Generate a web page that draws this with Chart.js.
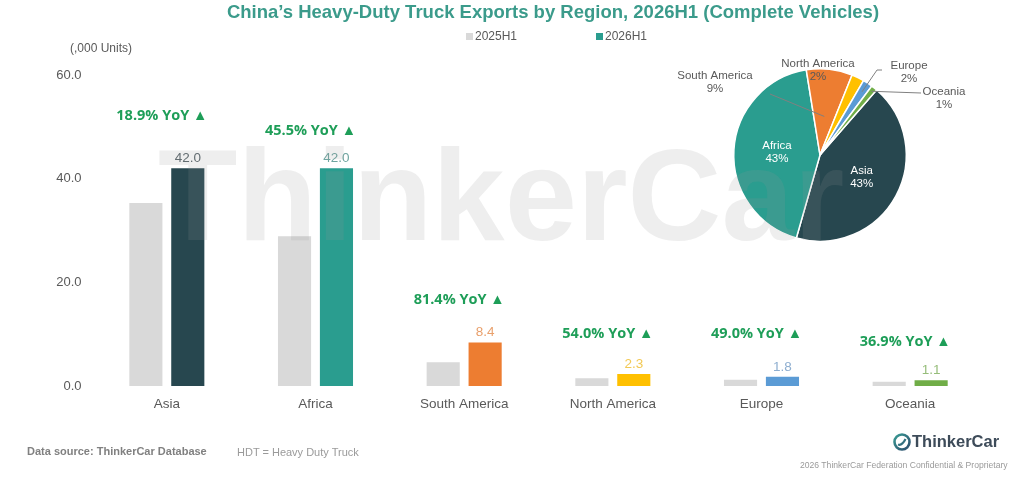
<!DOCTYPE html>
<html>
<head>
<meta charset="utf-8">
<script src="https://cdn.jsdelivr.net/npm/chart.js@4.4.1/dist/chart.umd.min.js"></script>
<style>
  html, body { margin: 0; padding: 0; background: #fff; }
  #wrap { position: relative; width: 1024px; height: 482px; overflow: hidden; font-family: 'Liberation Sans', Arial, sans-serif; }
  #barChart { position: absolute; left: 0; top: 0; }
  #pieChart { position: absolute; left: 640px; top: 58px; }
  .txt { position: absolute; white-space: nowrap; }
  #title { left: 0; width: 1106px; top: 1px; text-align: center; font-weight: bold; font-size: 18.5px; color: #3b9b8b; }
  #units { left: 70px; top: 41px; font-size: 12px; color: #595959; }
  #src { left: 27px; top: 445px; font-size: 11px; font-weight: bold; color: #808080; }
  #hdt { left: 237px; top: 446px; font-size: 11px; color: #9a9a9a; }
  #brand { left: 912px; top: 432px; font-size: 16.5px; font-weight: bold; color: #3d4b59; }
  #conf { left: 800px; top: 460px; font-size: 8.6px; color: #9a9a9a; }
  #mark { left: 158px; top: 120px; font-size: 130px; font-weight: bold; color: rgba(150,150,150,0.16); pointer-events: none; }
  #logo { position: absolute; left: 892px; top: 432px; }
</style>
</head>
<body>
<div id="wrap">
  <canvas id="barChart" width="1024" height="482"></canvas>
  <canvas id="pieChart" width="360" height="194"></canvas>
  <div class="txt" id="title">China’s Heavy-Duty Truck Exports by Region, 2026H1 (Complete Vehicles)</div>
  <div class="txt" id="units">(,000 Units)</div>
  <div class="txt" id="src">Data source: ThinkerCar Database</div>
  <div class="txt" id="hdt">HDT = Heavy Duty Truck</div>
  <canvas id="logo" width="20" height="20"></canvas>
  <div class="txt" id="brand">ThinkerCar</div>
  <div class="txt" id="conf">2026 ThinkerCar Federation Confidential &amp; Proprietary</div>
  <div class="txt" id="mark">ThinkerCar</div>
</div>
<script>
// data
const regions = ['Asia', 'Africa', 'South America', 'North America', 'Europe', 'Oceania'];
const seriesNames = ['2025H1', '2026H1'];
const units2025 = [35.3, 28.9, 4.6, 1.5, 1.2, 0.8];
const units2026 = [42.0, 42.0, 8.4, 2.3, 1.8, 1.1];
const yoyGrowth = ['18.9%', '45.5%', '81.4%', '54.0%', '49.0%', '36.9%'];
const yTicks = [0, 20, 40, 60];

// styles
const grey = '#d9d9d9';
const regionColors = ['#27474f', '#2a9d8f', '#ed7d31', '#ffc000', '#5b9bd5', '#70ad47'];
const valueColors = ['#5a666b', '#6fa5a0', '#e9a06c', '#f2c955', '#8eaed0', '#96bd7a'];
const yoyLift = [52, 37, 43, 40, 43, 38];
const FONT = "'Liberation Sans', Arial, sans-serif";

Chart.defaults.font.family = FONT;
Chart.defaults.color = '#595959';

const barExtras = {
  id: 'barExtras',
  afterDatasetsDraw(chart) {
    const ctx = chart.ctx;
    const m0 = chart.getDatasetMeta(0).data;
    const m1 = chart.getDatasetMeta(1).data;
    ctx.save();
    ctx.textAlign = 'center';
    m1.forEach((bar, i) => {
      // value label above the 2026 bar
      ctx.font = '13.5px ' + FONT;
      ctx.fillStyle = valueColors[i];
      ctx.textBaseline = 'bottom';
      ctx.fillText(units2026[i].toFixed(1), bar.x, bar.y - 3);
      // yoy label
      const cx = (m0[i].x + bar.x) / 2 - 5;
      ctx.font = "bold 14.5px 'Open Sans', " + FONT;
      ctx.fillStyle = '#1e9e58';
      ctx.textBaseline = 'middle';
      ctx.fillText(yoyGrowth[i] + ' YoY \u25B2', cx, bar.y - yoyLift[i]);
    });
    // legend
    ctx.textAlign = 'left';
    ctx.font = '12px ' + FONT;
    const legX = [466, 596];
    [grey, regionColors[1]].forEach((c, k) => {
      ctx.fillStyle = c;
      ctx.fillRect(legX[k], 33, 7, 7);
      ctx.fillStyle = '#595959';
      ctx.fillText(seriesNames[k], legX[k] + 9, 37);
    });
    ctx.restore();
  }
};

new Chart(document.getElementById('barChart'), {
  type: 'bar',
  data: {
    labels: regions,
    datasets: [
      { label: seriesNames[0], data: units2025, backgroundColor: grey },
      { label: seriesNames[1], data: units2026, backgroundColor: regionColors }
    ]
  },
  options: {
    responsive: false,
    animation: false,
    categoryPercentage: 0.564,
    barPercentage: 0.79,
    layout: { padding: { left: 0, right: 39.5, top: 75, bottom: 66 } },
    plugins: { legend: { display: false }, tooltip: { enabled: false } },
    scales: {
      x: {
        grid: { display: false },
        border: { display: false },
        ticks: { color: '#595959', font: { size: 13.5 }, padding: 2 },
        afterFit(s) { s.height = 30; }
      },
      y: {
        min: 0,
        max: 60,
        afterBuildTicks(s) { s.ticks = yTicks.map(v => ({ value: v })); },
        grid: { display: false, drawTicks: false },
        border: { display: false },
        ticks: { color: '#595959', font: { size: 13 }, padding: 11, callback: v => v.toFixed(1) },
        afterFit(s) { s.width = 92.5; }
      }
    }
  },
  plugins: [barExtras]
});

// pie label placement (relative to pie centre, px)
const pieLabelPos = [
  { inside: 0.55 },
  { inside: 0.5 },
  { dx: -105, dy: -73, from: [-50, -61], r: 0.45 },
  { dx: -2, dy: -85 },
  { dx: 89, dy: -83, from: [62, -85], elbow: [57, -85], r: 0.88 },
  { dx: 124, dy: -57, from: [101, -62], r: 0.95 }
];

const pieLabels = {
  id: 'pieLabels',
  afterDatasetsDraw(chart) {
    const ctx = chart.ctx;
    const arcs = chart.getDatasetMeta(0).data;
    const total = units2026.reduce((a, b) => a + b, 0);
    ctx.save();
    ctx.textAlign = 'center';
    ctx.textBaseline = 'middle';
    ctx.font = '11.5px ' + FONT;
    arcs.forEach((arc, i) => {
      const p = pieLabelPos[i];
      const mid = (arc.startAngle + arc.endAngle) / 2;
      const pct = Math.round(units2026[i] / total * 100) + '%';
      let lx, ly;
      if (p.inside) {
        lx = arc.x + Math.cos(mid) * arc.outerRadius * p.inside;
        ly = arc.y + Math.sin(mid) * arc.outerRadius * p.inside;
        ctx.fillStyle = '#ffffff';
      } else {
        lx = arc.x + p.dx;
        ly = arc.y + p.dy;
        ctx.fillStyle = '#595959';
        if (p.from) {
          ctx.strokeStyle = '#808080';
          ctx.lineWidth = 1;
          ctx.beginPath();
          ctx.moveTo(arc.x + p.from[0], arc.y + p.from[1]);
          if (p.elbow) ctx.lineTo(arc.x + p.elbow[0], arc.y + p.elbow[1]);
          ctx.lineTo(arc.x + Math.cos(mid) * arc.outerRadius * p.r, arc.y + Math.sin(mid) * arc.outerRadius * p.r);
          ctx.stroke();
        }
      }
      ctx.fillText(regions[i], lx, ly - 6.5);
      ctx.fillText(pct, lx, ly + 6.5);
    });
    ctx.restore();
  }
};

new Chart(document.getElementById('pieChart'), {
  type: 'pie',
  data: {
    labels: regions,
    datasets: [{ data: units2026, backgroundColor: regionColors, borderColor: '#ffffff', borderWidth: 1.5 }]
  },
  options: {
    responsive: false,
    animation: false,
    rotation: 41,
    layout: { padding: 10 },
    plugins: { legend: { display: false }, tooltip: { enabled: false } }
  },
  plugins: [pieLabels]
});

// small logo mark: ring with a swoosh
const lg = document.getElementById('logo').getContext('2d');
const grad = lg.createLinearGradient(0, 0, 20, 20);
grad.addColorStop(0, '#3aa89a');
grad.addColorStop(1, '#2c3e66');
lg.strokeStyle = grad;
lg.lineWidth = 2.6;
lg.beginPath();
lg.arc(10, 10, 7.5, 0, Math.PI * 2);
lg.stroke();
lg.lineWidth = 2.2;
lg.beginPath();
lg.moveTo(6, 12.5);
lg.quadraticCurveTo(10, 14, 13.5, 7);
lg.stroke();
</script>
</body>
</html>
